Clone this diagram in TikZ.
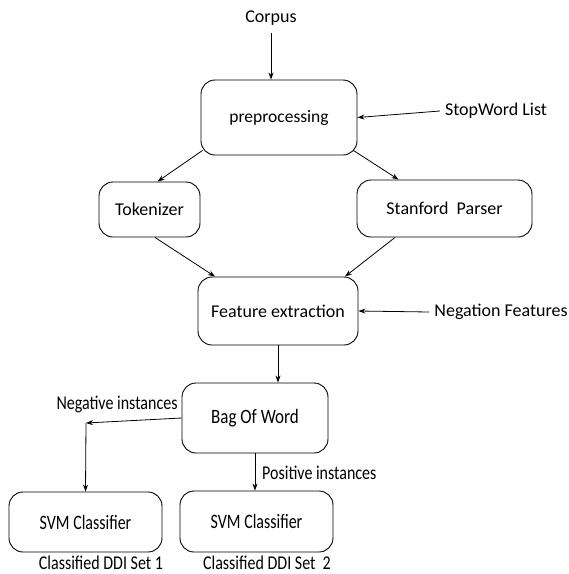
\documentclass[tikz,border=0pt]{standalone}
\usepackage{fontspec}
\usepackage{graphicx}
\setmainfont{Carlito}
\usetikzlibrary{arrows.meta}
\newcommand{\tallt}[2][1.28]{\scalebox{1}[#1]{#2}}
\begin{document}
\begin{tikzpicture}[x=1pt,y=-1pt,
  box/.style={draw,rounded corners=14pt,line width=0.9pt,font=\fontsize{18}{20}\selectfont,inner sep=0pt},
  lbl/.style={font=\fontsize{18}{20}\selectfont,inner sep=0pt},
  small/.style={font=\fontsize{16}{18}\selectfont},
  arr/.style={-{Stealth[length=7pt,width=5pt]},line width=0.8pt}]
\useasboundingbox (0,0) rectangle (569,574);
\node[box,font=\fontsize{17.5}{20}\selectfont,minimum width=156pt,minimum height=75pt] (pre) at (279,117.5) {preprocessing};
\node[box,minimum width=101pt,minimum height=55pt] (tok) at (149.5,209.5) {Tokenizer};
\node[box,minimum width=175pt,minimum height=57pt] (sp) at (444.5,208.5) {Stanford\ \ Parser};
\node[box,minimum width=160pt,minimum height=68pt] (fe) at (278,311) {Feature extraction};
\node[box,font=\fontsize{17}{20}\selectfont,minimum width=146pt,minimum height=70pt] (bag) at (255,418) {\tallt[1.2]{Bag Of Word}};
\node[box,small,minimum width=153pt,minimum height=60pt] (svm1) at (85.5,522) {\tallt{SVM Classifier}};
\node[box,small,minimum width=153pt,minimum height=61pt] (svm2) at (256.5,521.5) {\tallt{SVM Classifier}};

\node[lbl] (corpus) at (271,18) {Corpus};
\node[lbl] (stop) at (496,111) {StopWord List};
\node[lbl] (neg) at (501,312) {Negation Features};
\node[lbl,small] (negi) at (117,404) {\tallt[1.22]{Negative instances}};
\node[lbl,small,anchor=west] (posi) at (262,473) {\tallt[1.22]{Positive instances}};
\node[lbl,small] (c1) at (101,563) {\tallt[1.22]{Classified DDI Set 1}};
\node[lbl,small] (c2) at (267,563) {\tallt[1.22]{Classified DDI Set\ \ 2}};

\coordinate (nc) at (86,423);

\draw[arr] ([yshift=-8pt]corpus.south) -- (corpus.south |- pre.north);
\draw[arr] ([xshift=-5pt]stop.west) -- (pre.east);
\draw[arr] ([xshift=2pt,yshift=5pt]pre.south west) -- ([xshift=8pt]tok.north);
\draw[arr] ([xshift=-4pt,yshift=5pt]pre.south east) -- ([xshift=-46pt]sp.north);
\draw[arr] ([xshift=5.5pt]tok.south) -- ([xshift=-63pt]fe.north);
\draw[arr] ([xshift=-49.5pt]sp.south) -- ([xshift=67pt]fe.north);
\draw[arr] ([xshift=-5pt]neg.west) -- (fe.east);
\draw[arr] (fe.south) -- (fe.south |- bag.north);
\draw[arr] (bag.west) -- (nc);
\draw[arr] (nc) -- (svm1.north);
\draw[arr] (bag.south) -- (bag.south |- svm2.north);
\end{tikzpicture}
\end{document}
